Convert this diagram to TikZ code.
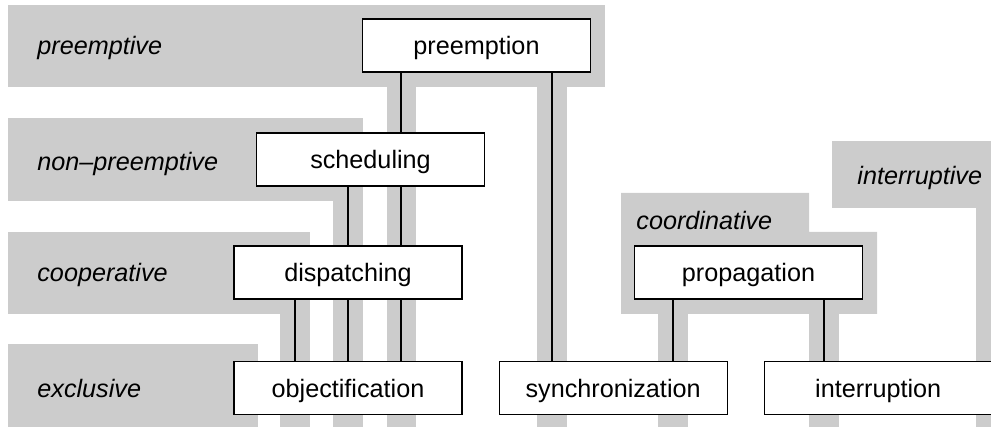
\documentclass[tikz,border=0pt]{standalone}
\usepackage{fontspec}
\setmainfont{Liberation Sans}
\usetikzlibrary{positioning}

\begin{document}
\begin{tikzpicture}[x=0.5pt, y=-0.5pt,
  node distance = 30.5pt and 18pt,
  nodes = {font=\fontsize{12.6}{15}\selectfont},
  stage/.style = {draw, fill=white, line width=0.55pt,
    minimum width=114pt, minimum height=26.5pt, inner sep=0pt,
    text height=1.2em, text depth=0.25em},
  mode/.style = {font=\fontsize{12.6}{15}\selectfont\itshape,
    anchor=base west, inner sep=0pt},
  band/.style = {fill=black!20},
  link/.style = {line width=1pt}
  ]
  \useasboundingbox (0,0) rectangle (991,427);

  % grey levels
  \fill[band] (8,5) rectangle (605,87);
  \fill[band] (387,87) rectangle (416,427);
  \fill[band] (537,87) rectangle (567,427);
  \fill[band] (8,118) rectangle (363,201);
  \fill[band] (333,201) rectangle (363,427);
  \fill[band] (8,232) rectangle (310,314);
  \fill[band] (280,314) rectangle (310,427);
  \fill[band] (8,344) rectangle (258,427);
  \fill[band] (621,193) -| (809,232) -| (877,314) -- (621,314) -- cycle;
  \fill[band] (658,314) rectangle (688,427);
  \fill[band] (809,314) rectangle (839,427);
  \fill[band] (832,141) rectangle (991,208);
  \fill[band] (976,208) rectangle (991,427);

  \node (preemptive) [mode] at (37,55) {preemptive};
  \node (nonpreemptive) [mode] at (37,171) {non--preemptive};
  \node (cooperative) [mode] at (37,282) {cooperative};
  \node (exclusive) [mode] at (37,397) {exclusive};
  \node (coordinative) [mode] at (636,230) {coordinative};
  \node (interruptive) [mode] at (857,185) {interruptive};

  \node (preemption) [stage] at (476.5,45.5) {preemption};
  \node (scheduling) [stage] at (370.5,159.5) {scheduling};
  \node (dispatching) [stage] at (348,272.5) {dispatching};
  \node (objectification) [stage, below=of dispatching] {objectification};
  \node (synchronization) [stage, right=of objectification] {synchronization};
  \node (interruption) [stage, right=of synchronization] {interruption};
  \node (propagation) [stage] at (748.5,272.5) {propagation};

  % columns of the links
  \coordinate (c1) at (295,0);
  \coordinate (c2) at (348,0);
  \coordinate (c3) at (401,0);
  \coordinate (c4) at (552,0);
  \coordinate (c5) at (673,0);
  \coordinate (c6) at (824,0);

  \draw[link] (preemption.south -| c3) -- (scheduling.north -| c3);
  \draw[link] (preemption.south -| c4) -- (synchronization.north -| c4);
  \foreach \c in {c2,c3}
    \draw[link] (scheduling.south -| \c) -- (dispatching.north -| \c);
  \foreach \c in {c1,c2,c3}
    \draw[link] (dispatching.south -| \c) -- (objectification.north -| \c);
  \draw[link] (propagation.south -| c5) -- (synchronization.north -| c5);
  \draw[link] (propagation.south -| c6) -- (interruption.north -| c6);
\end{tikzpicture}
\end{document}
